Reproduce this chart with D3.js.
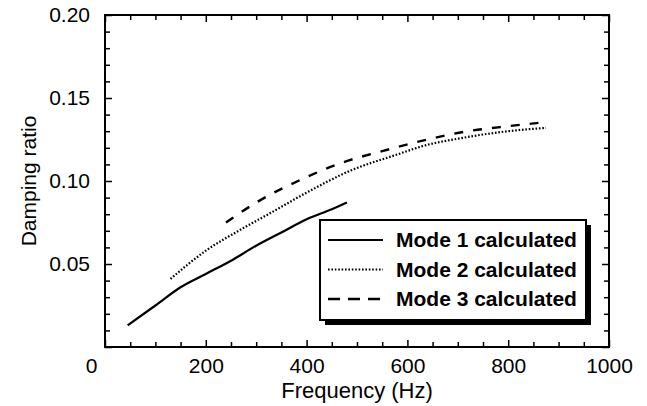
<!DOCTYPE html>
<html>
<head>
<meta charset="utf-8">
<script src="https://cdn.jsdelivr.net/npm/d3@7"></script>
<style>
  body { margin: 0; background: #fff; }
  text { font-family: "Liberation Sans", Arial, Helvetica, sans-serif; fill: #000; }
</style>
</head>
<body>
<script>
var freq1 = [45, 100, 150, 200, 250, 300, 350, 400, 450, 480];
var damp1 = [0.013, 0.025, 0.036, 0.044, 0.052, 0.061, 0.069, 0.077, 0.083, 0.087];

var freq2 = [130, 200, 265, 330, 400, 485, 580, 630, 710, 800, 875];
var damp2 = [0.041, 0.058, 0.070, 0.081, 0.093, 0.106, 0.116, 0.121, 0.126, 0.130, 0.132];

var freq3 = [240, 300, 390, 470, 550, 640, 720, 800, 860];
var damp3 = [0.075, 0.087, 0.101, 0.111, 0.118, 0.125, 0.130, 0.133, 0.135];

var seriesNames = ["Mode 1 calculated", "Mode 2 calculated", "Mode 3 calculated"];
var xTicks = d3.range(0, 1001, 50);
var yTicks = d3.range(0, 21).map(function(i) { return i / 100; });

var width = 647, height = 406;
var pLeft = 105, pRight = 609, pTop = 15, pBottom = 347;

var svg = d3.select("body")
  .append("svg")
  .attr("width", width)
  .attr("height", height);

var x = d3.scaleLinear().domain([0, 1000]).range([pLeft, pRight]);
var y = d3.scaleLinear().domain([0, 0.2]).range([pBottom, pTop]);

function isMajorX(d) { return d % 200 === 0; }
function isMajorY(d) { return Math.round(d * 100) % 5 === 0; }

// bottom axis with labels
var gx = svg.append("g")
  .attr("transform", "translate(0," + pBottom + ")")
  .call(d3.axisBottom(x).tickValues(xTicks).tickSize(-5).tickPadding(11)
    .tickFormat(function(d) { return isMajorX(d) ? d : ""; }));
gx.selectAll(".tick line").attr("y2", function(d) { return isMajorX(d) ? -7 : -5; });
gx.selectAll(".tick text").filter(function(d) { return d === 0; })
  .attr("text-anchor", "end").attr("x", -8);

// top axis, ticks only
var gt = svg.append("g")
  .attr("transform", "translate(0," + pTop + ")")
  .call(d3.axisTop(x).tickValues(xTicks).tickSize(-5).tickFormat(""));
gt.selectAll(".tick line").attr("y2", function(d) { return isMajorX(d) ? 7 : 5; });

// left axis with labels
var gy = svg.append("g")
  .attr("transform", "translate(" + pLeft + ",0)")
  .call(d3.axisLeft(y).tickValues(yTicks).tickSize(-5).tickPadding(15)
    .tickFormat(function(d) { return (isMajorY(d) && d > 0) ? d3.format(".2f")(d) : ""; }));
gy.selectAll(".tick line").attr("x2", function(d) { return isMajorY(d) ? 7 : 5; });

// right axis, ticks only
var gr = svg.append("g")
  .attr("transform", "translate(" + pRight + ",0)")
  .call(d3.axisRight(y).tickValues(yTicks).tickSize(-5).tickFormat(""));
gr.selectAll(".tick line").attr("x2", function(d) { return isMajorY(d) ? -7 : -5; });

svg.selectAll(".domain").remove();
svg.selectAll(".tick line").attr("stroke", "#000").attr("stroke-width", 1.5);
svg.selectAll(".tick text").style("font-size", "21px").attr("fill", "#000");
svg.selectAll(".tick text").filter(function() { return this.textContent === ""; }).remove();

// frame
svg.append("rect")
  .attr("x", pLeft).attr("y", pTop)
  .attr("width", pRight - pLeft).attr("height", pBottom - pTop)
  .attr("fill", "none").attr("stroke", "#000").attr("stroke-width", 2);

// axis titles
svg.append("text")
  .attr("x", (pLeft + pRight) / 2)
  .attr("y", 398)
  .attr("text-anchor", "middle")
  .style("font-size", "22px")
  .text("Frequency (Hz)");

svg.append("text")
  .attr("transform", "translate(36," + y(0.1) + ") rotate(-90)")
  .attr("text-anchor", "middle")
  .style("font-size", "21px")
  .text("Damping ratio");

// series
var styles = [
  { dash: null, width: 2.2 },
  { dash: "1.6,1.8", width: 2.2 },
  { dash: "9,10", width: 2.4 }
];
var series = [
  d3.zip(freq1, damp1),
  d3.zip(freq2, damp2),
  d3.zip(freq3, damp3)
];

var line = d3.line()
  .x(function(d) { return x(d[0]); })
  .y(function(d) { return y(d[1]); })
  .curve(d3.curveMonotoneX);

svg.selectAll("path.series")
  .data(series)
  .enter()
  .append("path")
  .attr("class", "series")
  .attr("d", line)
  .attr("fill", "none")
  .attr("stroke", "#000")
  .attr("stroke-width", function(d, i) { return styles[i].width; })
  .attr("stroke-dasharray", function(d, i) { return styles[i].dash; });

// legend
var lg = svg.append("g");
lg.append("rect")
  .attr("x", 325).attr("y", 225).attr("width", 266).attr("height", 100)
  .attr("fill", "#000");
lg.append("rect")
  .attr("x", 320).attr("y", 220).attr("width", 266).attr("height", 100)
  .attr("fill", "#fff").attr("stroke", "#000").attr("stroke-width", 2);

var rows = lg.selectAll("g.row")
  .data(seriesNames)
  .enter()
  .append("g")
  .attr("class", "row")
  .attr("transform", function(d, i) { return "translate(0," + (240 + i * 29.5) + ")"; });

rows.append("line")
  .attr("x1", 328).attr("x2", 383)
  .attr("y1", 0).attr("y2", 0)
  .attr("stroke", "#000")
  .attr("stroke-width", function(d, i) { return styles[i].width; })
  .attr("stroke-dasharray", function(d, i) { return i === 2 ? "12,8" : styles[i].dash; });

rows.append("text")
  .attr("x", 396)
  .attr("y", 7)
  .style("font-size", "21px")
  .style("font-weight", "bold")
  .text(function(d) { return d; });
</script>
</body>
</html>
